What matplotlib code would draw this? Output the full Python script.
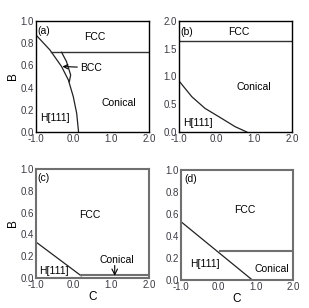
import matplotlib
matplotlib.use("Agg")
import matplotlib.pyplot as plt

plt.rcParams['font.family'] = ['Liberation Sans', 'DejaVu Sans']

# Panel (a)
a_curve_C = [-1.0, -0.63, -0.32, -0.14, -0.01, 0.08, 0.13]
a_curve_B = [0.874, 0.739, 0.589, 0.468, 0.318, 0.168, 0.0]
a_fcc_C = [-0.61, 2.0]
a_fcc_B = [0.718, 0.718]
a_bcc_C = [-0.32, -0.19, -0.08, -0.115]
a_bcc_B = [0.718, 0.634, 0.514, 0.453]

# Panel (b)
b_curve_C = [-1.0, -0.66, -0.31, 0.13, 0.49, 0.80]
b_curve_B = [0.92, 0.636, 0.426, 0.246, 0.096, 0.0]
b_fcc_C = [-1.0, 2.0]
b_fcc_B = [1.64, 1.64]

# Panel (c)
c_diag_C = [-1.0, 0.2]
c_diag_B = [0.33, 0.02]
c_hor_C = [0.2, 2.0]
c_hor_B = [0.03, 0.03]

# Panel (d)
d_diag_C = [-1.0, 0.91]
d_diag_B = [0.53, 0.0]
d_hor_C = [0.04, 2.0]
d_hor_B = [0.26, 0.26]

x_ticks = [-1.0, 0.0, 1.0, 2.0]
x_labels = ['-1.0', '0.0', '1.0', '2.0']
y_ticks_1 = [0.0, 0.2, 0.4, 0.6, 0.8, 1.0]
y_labels_1 = ['0.0', '0.2', '0.4', '0.6', '0.8', '1.0']
y_ticks_2 = [0.0, 0.5, 1.0, 1.5, 2.0]
y_labels_2 = ['0.0', '0.5', '1.0', '1.5', '2.0']

W, H = 309, 308
fig = plt.figure(figsize=(W / 100, H / 100), dpi=100)

def mk(x0, y0, x1, y1):
    return fig.add_axes([x0 / W, 1 - y1 / H, (x1 - x0) / W, (y1 - y0) / H])

ax_a = mk(36, 21, 149, 132)
ax_b = mk(179, 21, 292, 132)
ax_c = mk(36, 169, 149, 278)
ax_d = mk(181, 170, 293, 280)

fs = 7.5
tfs = 7
tc = '#3a3a44'

def style(ax, yt, yl, ymax, fcol, lw):
    ax.set_xlim(-1, 2)
    ax.set_ylim(0, ymax)
    ax.set_xticks(x_ticks)
    ax.set_xticklabels(x_labels)
    ax.set_yticks(yt)
    ax.set_yticklabels(yl)
    ax.tick_params(length=0, pad=1.5, labelsize=tfs, labelcolor=tc)
    for s in ax.spines.values():
        s.set_color(fcol)
        s.set_linewidth(lw)

style(ax_a, y_ticks_1, y_labels_1, 1.0, 'black', 1.0)
style(ax_b, y_ticks_2, y_labels_2, 2.0, 'black', 1.0)
style(ax_c, y_ticks_1, y_labels_1, 1.0, '#707070', 1.5)
style(ax_d, y_ticks_1, y_labels_1, 1.0, '#707070', 1.5)

# (a)
ax_a.plot(a_curve_C, a_curve_B, color='#222222', lw=0.9)
ax_a.plot(a_fcc_C, a_fcc_B, color='#333333', lw=1.0)
ax_a.plot(a_bcc_C, a_bcc_B, color='#222222', lw=0.9)
ax_a.annotate('BCC', xy=(-0.3, 0.59), xytext=(0.17, 0.58), fontsize=fs,
              va='center', ha='left',
              arrowprops=dict(arrowstyle='->', lw=0.8, color='black', shrinkA=0, shrinkB=0))
ax_a.text(0.57, 0.853, 'FCC', fontsize=fs, ha='center', va='center')
ax_a.text(1.21, 0.258, 'Conical', fontsize=fs, ha='center', va='center')
ax_a.text(-0.5, 0.123, 'H[111]', fontsize=fs, ha='center', va='center')
ax_a.text(-0.79, 0.91, '(a)', fontsize=fs, ha='center', va='center')
ax_a.set_ylabel('B', fontsize=fs + 1, labelpad=1)

# (b)
ax_b.plot(b_curve_C, b_curve_B, color='#222222', lw=0.9)
ax_b.plot(b_fcc_C, b_fcc_B, color='#333333', lw=1.0)
ax_b.text(0.575, 1.81, 'FCC', fontsize=fs, ha='center', va='center')
ax_b.text(0.99, 0.805, 'Conical', fontsize=fs, ha='center', va='center')
ax_b.text(-0.5, 0.157, 'H[111]', fontsize=fs, ha='center', va='center')
ax_b.text(-0.8, 1.81, '(b)', fontsize=fs, ha='center', va='center')

# (c)
ax_c.plot(c_diag_C, c_diag_B, color='#222222', lw=0.9)
ax_c.plot(c_hor_C, c_hor_B, color='#707070', lw=1.5)
ax_c.text(1.14, 0.165, 'Conical', fontsize=fs, ha='center', va='center')
ax_c.annotate('', xy=(1.09, 0.02), xytext=(1.09, 0.115),
              arrowprops=dict(arrowstyle='->', lw=0.8, color='black', shrinkA=0, shrinkB=0))
ax_c.text(0.44, 0.58, 'FCC', fontsize=fs, ha='center', va='center')
ax_c.text(-0.53, 0.06, 'H[111]', fontsize=fs, ha='center', va='center')
ax_c.text(-0.8, 0.92, '(c)', fontsize=fs, ha='center', va='center')
ax_c.set_ylabel('B', fontsize=fs + 1, labelpad=1)
ax_c.set_xlabel('C', fontsize=fs + 1, labelpad=1)

# (d)
ax_d.plot(d_diag_C, d_diag_B, color='#222222', lw=0.9)
ax_d.plot(d_hor_C, d_hor_B, color='#707070', lw=1.5)
ax_d.text(0.71, 0.64, 'FCC', fontsize=fs, ha='center', va='center')
ax_d.text(1.42, 0.10, 'Conical', fontsize=fs, ha='center', va='center')
ax_d.text(-0.36, 0.144, 'H[111]', fontsize=fs, ha='center', va='center')
ax_d.text(-0.73, 0.92, '(d)', fontsize=fs, ha='center', va='center')
ax_d.set_xlabel('C', fontsize=fs + 1, labelpad=1)

fig.savefig('out.png', dpi=100)
